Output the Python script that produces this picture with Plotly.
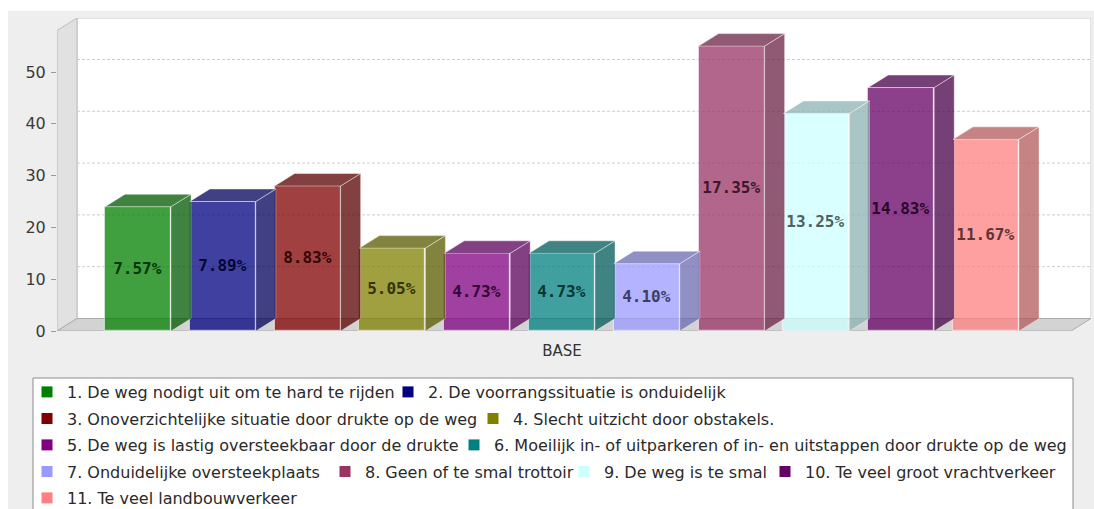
import plotly.graph_objects as go

# ---------------- data ----------------
categories = [
    "1. De weg nodigt uit om te hard te rijden",
    "2. De voorrangssituatie is onduidelijk",
    "3. Onoverzichtelijke situatie door drukte op de weg",
    "4. Slecht uitzicht door obstakels.",
    "5. De weg is lastig oversteekbaar door de drukte",
    "6. Moeilijk in- of uitparkeren of in- en uitstappen door drukte op de weg",
    "7. Onduidelijke oversteekplaats",
    "8. Geen of te smal trottoir",
    "9. De weg is te smal",
    "10. Te veel groot vrachtverkeer",
    "11. Te veel landbouwverkeer",
]
counts = [24, 25, 28, 16, 15, 15, 13, 55, 42, 47, 37]
pct_labels = ["7.57%", "7.89%", "8.83%", "5.05%", "4.73%", "4.73%",
              "4.10%", "17.35%", "13.25%", "14.83%", "11.67%"]
x_tick_text = ["BASE"]
y_ticks = [0, 10, 20, 30, 40, 50]
colors = ["#008000", "#000080", "#800000", "#808000", "#800080", "#008080",
          "#9999FF", "#993366", "#CCFFFF", "#660066", "#FF8080"]

# ---------------- geometry (layout only) ----------------
W, H = 1094, 509
PL, PR, PT, PB = 57, 1091, 18, 331          # plot area in pixels
PX_PER_CAT = 84.8
X0_PX = 138.0                                # pixel centre of first bar
PX_PER_UNIT = 5.18
BAR_W = 66 / PX_PER_CAT
DX = 20 / PX_PER_CAT                         # 3D depth offset (x units)
DY = 12.5 / PX_PER_UNIT                      # 3D depth offset (y units)
XMIN = (PL - X0_PX) / PX_PER_CAT
XMAX = (PR - X0_PX) / PX_PER_CAT
YMAX = (PB - PT) / PX_PER_UNIT
ALPHA = 0.75
FONT = "DejaVu Sans"


def px_x(px):
    return (px - PL) / (PR - PL)


def px_y(py):
    return (PB - py) / (PB - PT)


def rgb(h):
    h = h.lstrip("#")
    return tuple(int(h[i:i + 2], 16) for i in (0, 2, 4))


def rgba(c, a):
    return "rgba(%d,%d,%d,%.3f)" % (c[0], c[1], c[2], a)


def darker(c, f=0.7):
    return tuple(int(v * f) for v in c)


xs = list(range(len(counts)))
fig = go.Figure()

# front faces of the bars
fig.add_trace(go.Bar(
    x=xs, y=counts, width=BAR_W,
    marker=dict(color=[rgba(rgb(c), ALPHA) for c in colors],
                line=dict(color="rgba(255,255,255,0.55)", width=1.2)),
    text=pct_labels, textposition="inside", insidetextanchor="middle",
    textangle=0, constraintext="none",
    textfont=dict(family="DejaVu Sans Mono", size=16, weight="bold",
                  color=["rgb(%d,%d,%d)" % tuple(int(v * 0.36 + 6) for v in rgb(c))
                         for c in colors]),
    showlegend=False, hoverinfo="skip", cliponaxis=False,
))

# side and top faces (3D effect)
for i, (v, c) in enumerate(zip(counts, colors)):
    left, right = i - BAR_W / 2, i + BAR_W / 2
    dc = rgba(darker(rgb(c)), ALPHA)
    fig.add_trace(go.Scatter(
        x=[right, right + DX, right + DX, right, right],
        y=[0, DY, v + DY, v, 0],
        mode="lines", fill="toself", fillcolor=dc,
        line=dict(color="rgba(255,255,255,0.35)", width=1),
        showlegend=False, hoverinfo="skip"))
    fig.add_trace(go.Scatter(
        x=[left, left + DX, right + DX, right, left],
        y=[v, v + DY, v + DY, v, v],
        mode="lines", fill="toself", fillcolor=dc,
        line=dict(color="rgba(255,255,255,0.45)", width=1),
        showlegend=False, hoverinfo="skip"))

# legend entries: one legend per item, placed like the reference flow layout
# (pixel centre of the colour square, pixel centre of the row)
legend_pos = [(47, 392), (408, 392),
              (47, 418.5), (493, 418.5),
              (47, 445), (474, 445),
              (47, 471.5), (345, 471.5), (584, 471.5), (785, 471.5),
              (47, 498)]
layout_legends = {}
for i, (name, c) in enumerate(zip(categories, colors)):
    key = "legend" if i == 0 else "legend%d" % (i + 1)
    fig.add_trace(go.Scatter(
        x=[None], y=[None], mode="markers", name=name,
        marker=dict(symbol="square", size=11, color=c, line=dict(width=0)),
        legend=key, showlegend=True, hoverinfo="skip"))
    sx, sy = legend_pos[i]
    layout_legends[key] = dict(
        x=(sx - 20) / W, y=1 - sy / H, xref="container", yref="container",
        xanchor="left", yanchor="middle", orientation="h",
        bgcolor="rgba(0,0,0,0)", borderwidth=0,
        font=dict(family=FONT, size=16, color="#2a2a2a"))

shapes = []
# chart background (grey with thin white border top/left)
shapes.append(dict(type="rect", xref="paper", yref="paper", layer="below",
                   x0=px_x(8), x1=px_x(1110), y0=px_y(530), y1=px_y(11),
                   fillcolor="#eeeeee", line=dict(width=0)))
# legend frame
shapes.append(dict(type="rect", xref="paper", yref="paper", layer="below",
                   x0=px_x(33), x1=px_x(1073), y0=px_y(530), y1=px_y(378),
                   fillcolor="white", line=dict(color="#8c8c8c", width=1)))
# back wall
shapes.append(dict(type="rect", xref="x", yref="y", layer="below",
                   x0=XMIN + DX, x1=XMAX, y0=DY, y1=YMAX,
                   fillcolor="white", line=dict(color="#c4c4c4", width=1)))
# left wall
shapes.append(dict(type="path", xref="x", yref="y", layer="below",
                   path="M %f,%f L %f,%f L %f,%f L %f,%f Z" % (
                       XMIN, 0, XMIN, YMAX - DY, XMIN + DX, YMAX, XMIN + DX, DY),
                   fillcolor="#e1e1e1", line=dict(color="#bdbdbd", width=1)))
# floor
shapes.append(dict(type="path", xref="x", yref="y", layer="below",
                   path="M %f,%f L %f,%f L %f,%f L %f,%f Z" % (
                       XMIN, 0, XMAX - DX, 0, XMAX, DY, XMIN + DX, DY),
                   fillcolor="#d3d3d3", line=dict(color="#ababab", width=1)))
# grid lines on the back wall
for t in y_ticks[1:]:
    shapes.append(dict(type="line", xref="x", yref="y", layer="below",
                       x0=XMIN + DX, x1=XMAX, y0=t + DY, y1=t + DY,
                       line=dict(color="#cdcdcd", width=1, dash="3px,2px")))

fig.update_layout(
    width=W, height=H, autosize=False,
    margin=dict(l=PL, r=W - PR, t=PT, b=H - PB, pad=0, autoexpand=False),
    paper_bgcolor="white", plot_bgcolor="rgba(0,0,0,0)",
    shapes=shapes, bargap=0,
    font=dict(family=FONT, size=16, color="#333333"),
    xaxis=dict(range=[XMIN, XMAX], showgrid=False, zeroline=False,
               showline=False, tickvals=[(len(counts) - 1) / 2],
               ticktext=x_tick_text, ticks="", automargin=False,
               ticklabelstandoff=9,
               tickfont=dict(family=FONT, size=15, color="#333333"),
               fixedrange=True),
    yaxis=dict(range=[0, YMAX], showgrid=False, zeroline=False,
               showline=False, tickvals=y_ticks, ticks="outside", ticklen=5,
               tickcolor="#9a9a9a", automargin=False, ticklabelstandoff=2,
               tickfont=dict(family=FONT, size=16, color="#3a3a3a"),
               fixedrange=True),
    **layout_legends,
)

fig.write_html(
    "out.html",
    config={"displayModeBar": False},
    post_script="document.body.style.margin='0';document.body.style.overflow='hidden';",
)
